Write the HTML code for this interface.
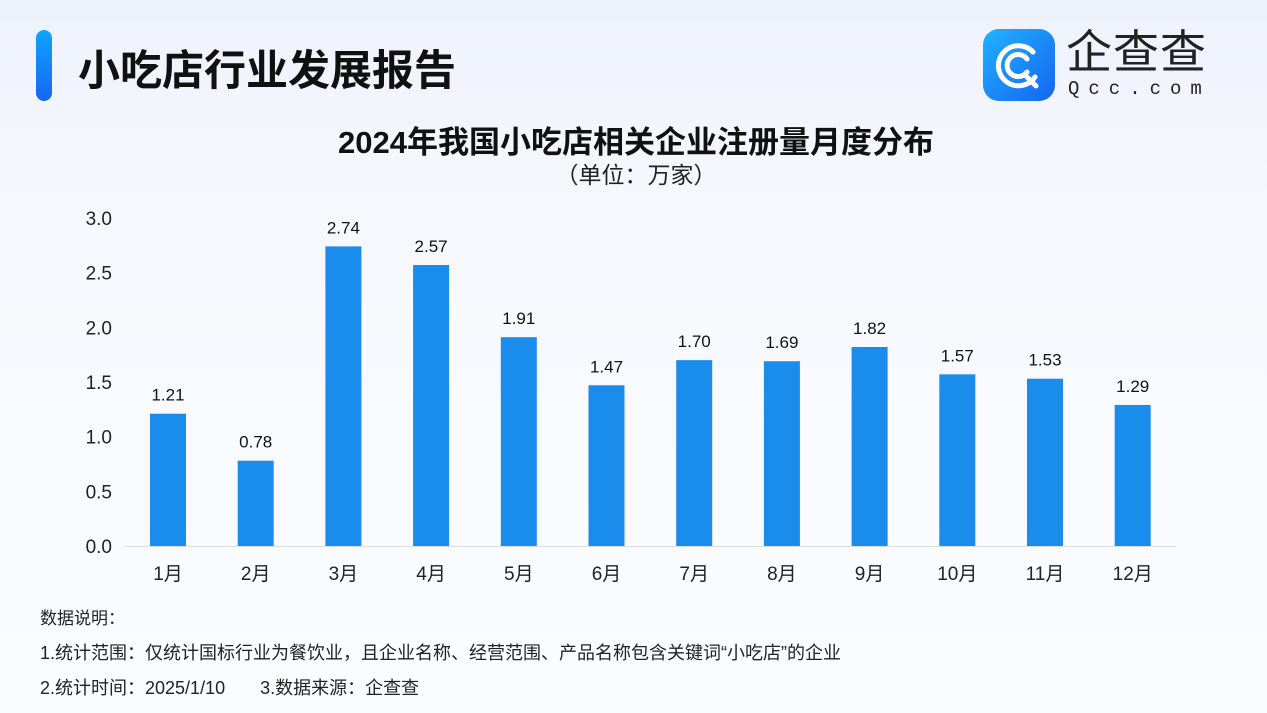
<!DOCTYPE html>
<html><head><meta charset="utf-8"><style>
body{margin:0;width:1267px;height:713px;overflow:hidden;background:linear-gradient(180deg,#eef2fb 0%,#f6f8fd 30%,#fbfcff 100%);font-family:"Liberation Sans","Noto Sans CJK SC",sans-serif;position:relative}
.t{position:absolute;white-space:nowrap}
</style></head><body>
<div style="position:absolute;left:36px;top:30px;width:16px;height:71px;border-radius:8px;background:linear-gradient(180deg,#12a3ff,#1468f0)"></div>
<div class="t" style="left:78px;top:37px;font-size:42px;font-weight:bold;color:#111">小吃店行业发展报告</div>
<div style="position:absolute;left:983px;top:29px;width:72px;height:72px;border-radius:16px;background:linear-gradient(135deg,#22b2ff,#1565f2)">
<svg width="72" height="72"><g fill="none" stroke="#fff" stroke-width="5" stroke-linecap="round"><path d="M50 23 A20 20 0 1 0 52 48"/><path d="M44 30 A11 11 0 1 0 44 43"/><path d="M44 48 L53 57"/></g></svg></div>
<div class="t" style="left:1066px;top:26px;font-size:46px;line-height:52px;color:#222;letter-spacing:1px">企查查</div>
<div class="t" style="left:1068px;top:78px;font-size:19px;line-height:22px;color:#222;letter-spacing:9px;font-family:'Liberation Mono',monospace">Qcc.com</div>
<div class="t" style="left:0;width:1272px;text-align:center;top:117px;font-size:31px;font-weight:bold;color:#111">2024年我国小吃店相关企业注册量月度分布</div>
<div class="t" style="left:0;width:1272px;text-align:center;top:156px;font-size:23px;color:#222">（单位：万家）</div>
<svg id="c" width="1267" height="713" style="position:absolute;left:0;top:0"></svg>
<div class="t" style="left:40px;top:604px;font-size:17px;color:#222">数据说明：</div>
<div class="t" style="left:40px;top:639px;font-size:18px;color:#222">1.统计范围：仅统计国标行业为餐饮业，且企业名称、经营范围、产品名称包含关键词“小吃店”的企业</div>
<div class="t" style="left:40px;top:674px;font-size:18px;color:#222">2.统计时间：2025/1/10&nbsp;&nbsp;&nbsp;&nbsp;&nbsp;&nbsp;&nbsp;3.数据来源：企查查</div>
<script>
const categories=["1月","2月","3月","4月","5月","6月","7月","8月","9月","10月","11月","12月"];
const values=[1.21,0.78,2.74,2.57,1.91,1.47,1.70,1.69,1.82,1.57,1.53,1.29];
const ticks=[0,0.5,1.0,1.5,2.0,2.5,3.0];
const svg=document.getElementById('c');const NS='http://www.w3.org/2000/svg';
const y=v=>546-v*(546-218)/3;const x=i=>168+i*87.7;
function mk(t,a,txt){const e=document.createElementNS(NS,t);for(const k in a)e.setAttribute(k,a[k]);if(txt!=null)e.textContent=txt;svg.appendChild(e);return e;}
const ax=mk('line',{x1:125,x2:1176,y1:546.5,y2:546.5,stroke:'#ddd','stroke-width':1});

ticks.forEach(t=>{const e=mk('text',{x:112,y:y(t)+7,'text-anchor':'end','font-size':19,fill:'#222'},t.toFixed(1));
});
values.forEach((v,i)=>{const b=mk('rect',{x:x(i)-18,y:y(v),width:36,height:546-y(v),fill:'#1a8cec'});

const l=mk('text',{x:x(i),y:y(v)-13,'text-anchor':'middle','font-size':17,fill:'#111'},v.toFixed(2));

const c=mk('text',{x:x(i),y:580,'text-anchor':'middle','font-size':19,fill:'#222'},categories[i]);
});
</script>
</body></html>
